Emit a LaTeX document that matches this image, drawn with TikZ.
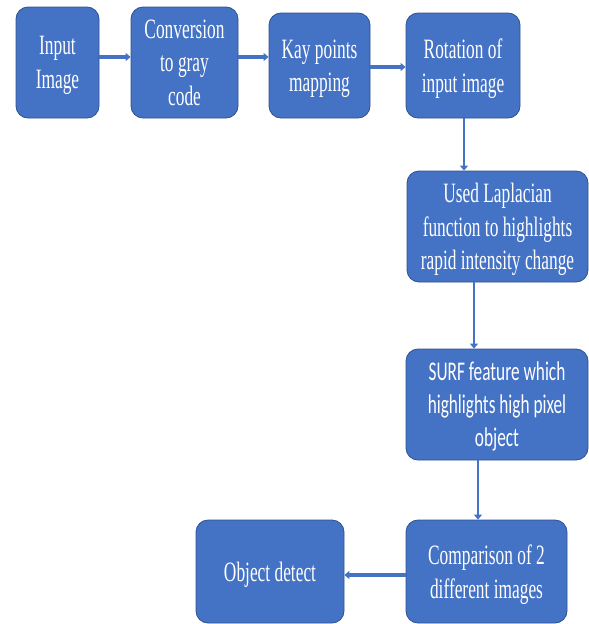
\documentclass[tikz,border=0pt]{standalone}
\usepackage{fontspec}
\setmainfont{Liberation Serif}
\newfontfamily\narrowserif[FakeStretch=0.62]{Liberation Serif}
\newfontfamily\narrowsans[FakeStretch=0.64]{Carlito}
\definecolor{boxfill}{HTML}{4472C4}
\definecolor{boxline}{HTML}{2F528F}
\usetikzlibrary{arrows.meta}

\begin{document}
\begin{tikzpicture}[x=1pt, y=-1pt,
                    every node/.style = {text=white, align=center, inner sep=0pt, text depth=0pt},
                    stepbox/.style = {draw=boxline, line width=0.8pt, fill=boxfill,
                                      rounded corners=12pt,
                                      font=\fontsize{28}{33.5}\selectfont\narrowserif},
                    flow/.style = {draw=boxfill, line width=3.5pt,
                                   -{Triangle[length=5pt, width=8pt]}}]
                \useasboundingbox (0,0) rectangle (589,624);
                \node (in)   [stepbox, minimum width=83pt,  minimum height=111pt] at (57.5,62.5)  {Input\\Image};
                \node (conv) [stepbox, minimum width=107pt, minimum height=111pt] at (184.5,62.5) {Conversion\\to gray\\code};
                \node (kay)  [stepbox, minimum width=101pt, minimum height=105pt] at (319.5,65.5) {Kay points\\mapping};
                \node (rot)  [stepbox, minimum width=114pt, minimum height=105pt] at (463,65.5)   {Rotation of\\input image};
                \node (lap)  [stepbox, minimum width=181pt, minimum height=111pt] at (497.5,226.5) {Used Laplacian\\function to highlights\\rapid intensity change};
                \node (surf) [stepbox, minimum width=182pt, minimum height=111pt,
                              font=\fontsize{27}{33}\selectfont\narrowsans] at (497,404.5) {SURF feature which\\highlights high pixel\\object};
                \node (cmp)  [stepbox, minimum width=161pt, minimum height=103pt] at (486.5,571.5) {Comparison of 2\\different images};
                \node (obj)  [stepbox, minimum width=148pt, minimum height=103pt] at (270,571.5)   {Object detect};
                \draw[flow] ([yshift=5.5pt]in.east)   -- ([yshift=5.5pt]in.east -| conv.west);
                \draw[flow] ([yshift=5.5pt]conv.east) -- ([yshift=5.5pt]conv.east -| kay.west);
                \draw[flow] ([yshift=-1.5pt]kay.east) -- ([yshift=-1.5pt]kay.east -| rot.west);
                \draw[flow, line width=2pt] ([xshift=1pt]rot.south)     -- ([xshift=1pt]rot.south |- lap.north);
                \draw[flow, line width=2pt] ([xshift=-23.5pt]lap.south) -- ([xshift=-23.5pt]lap.south |- surf.north);
                \draw[flow, line width=2pt] ([xshift=-19pt]surf.south)  -- ([xshift=-19pt]surf.south |- cmp.north);
                \draw[flow] ([yshift=-3.5pt]cmp.west) -- ([yshift=-3.5pt]cmp.west -| obj.east);
            \end{tikzpicture}
\end{document}
